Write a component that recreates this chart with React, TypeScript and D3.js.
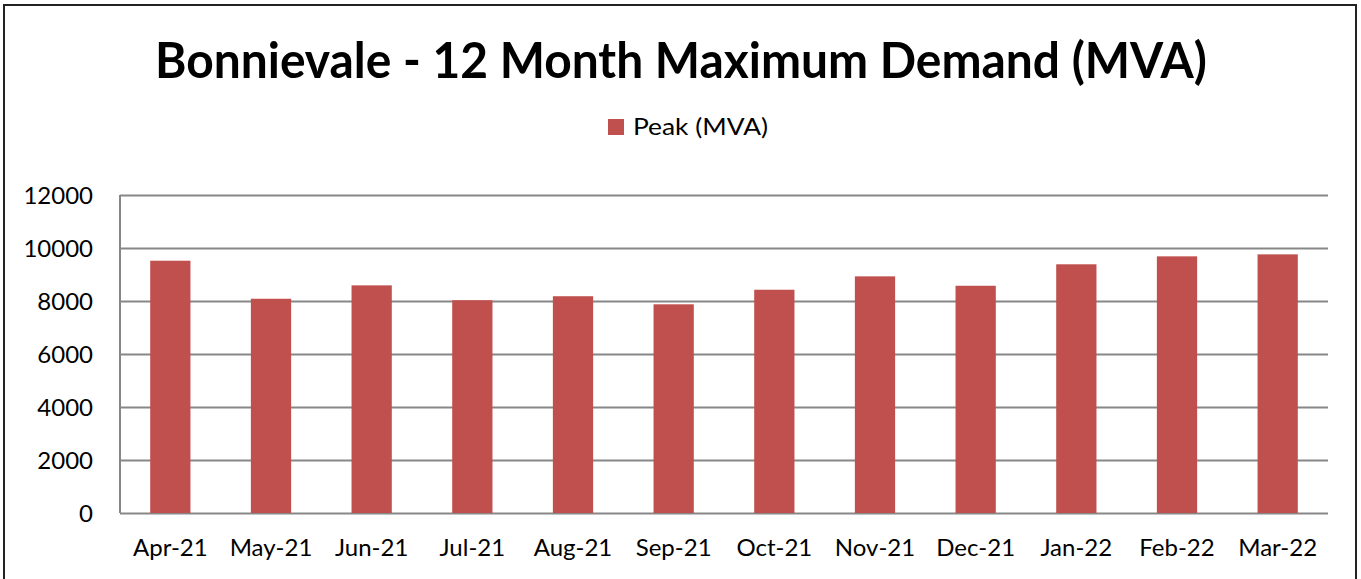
import { useEffect, useRef } from "react";
import * as d3 from "d3";

const months = [
  "Apr-21", "May-21", "Jun-21", "Jul-21", "Aug-21", "Sep-21",
  "Oct-21", "Nov-21", "Dec-21", "Jan-22", "Feb-22", "Mar-22",
];
const peakMVA = [9520, 8085, 8590, 8030, 8180, 7875, 8425, 8930, 8575, 9385, 9685, 9760];
const yTicks = [0, 2000, 4000, 6000, 8000, 10000, 12000];
const seriesName = "Peak (MVA)";
const title = "Bonnievale - 12 Month Maximum Demand (MVA)";

export default function App() {
  const width = 1361;
  const height = 579;
  const marginTop = 195;
  const marginRight = 33;
  const marginBottom = 66;
  const marginLeft = 120;
  const ref = useRef(null);

  useEffect(() => {
    ref.current.innerHTML = "";
    const svg = d3.select(ref.current);
    const font = "Lato, 'Open Sans', sans-serif";

    // outer chart frame (bottom edge is cut off in the picture)
    svg
      .append("path")
      .attr("d", `M4,${height + 5}V5H1356V${height + 5}`)
      .attr("fill", "none")
      .attr("stroke", "#222")
      .attr("stroke-width", 2);

    const xScale = d3
      .scaleBand()
      .domain(months)
      .range([marginLeft, width - marginRight])
      .paddingInner(0.6)
      .paddingOuter(0.3);

    const yScale = d3
      .scaleLinear()
      .domain([0, 12000])
      .range([height - marginBottom, marginTop]);

    // gridlines + y labels
    svg
      .append("g")
      .attr("transform", `translate(${width - marginRight}, 0)`)
      .call(
        d3
          .axisLeft(yScale)
          .tickValues(yTicks)
          .tickSize(width - marginLeft - marginRight)
          .tickFormat(d3.format("d")),
      )
      .call((g) => g.select(".domain").remove())
      .call((g) =>
        g.selectAll(".tick line").attr("stroke", "#878787").attr("stroke-width", 2),
      )
      .call((g) =>
        g
          .selectAll(".tick text")
          .attr("x", -(width - marginLeft - marginRight) - 27)
          .attr("dy", "0.36em")
          .attr("fill", "#000")
          .style("font-family", font)
          .style("font-size", "24px"),
      );

    // left axis line
    svg
      .append("line")
      .attr("x1", marginLeft)
      .attr("x2", marginLeft)
      .attr("y1", yScale(12000))
      .attr("y2", yScale(0))
      .attr("stroke", "#878787")
      .attr("stroke-width", 2);

    // bars
    svg
      .append("g")
      .selectAll("rect")
      .data(months)
      .join("rect")
      .attr("x", (d) => xScale(d))
      .attr("y", (d, i) => yScale(peakMVA[i]))
      .attr("width", xScale.bandwidth())
      .attr("height", (d, i) => yScale(0) - yScale(peakMVA[i]))
      .attr("fill", "#C0504D");

    // x labels
    svg
      .append("g")
      .attr("transform", `translate(0, ${height - marginBottom})`)
      .call(d3.axisBottom(xScale).tickSize(0))
      .call((g) => g.select(".domain").remove())
      .call((g) =>
        g
          .selectAll(".tick text")
          .attr("y", 26)
          .attr("dy", "0.72em")
          .attr("fill", "#000")
          .style("font-family", font)
          .style("font-size", "24px"),
      );

    // title
    svg
      .append("text")
      .attr("x", 681)
      .attr("y", 78)
      .attr("text-anchor", "middle")
      .attr("textLength", 1052)
      .attr("lengthAdjust", "spacingAndGlyphs")
      .style("font-family", font)
      .style("font-weight", "bold")
      .style("font-size", "50px")
      .text(title);

    // legend
    const legend = svg.append("g");
    legend
      .append("rect")
      .attr("x", 608)
      .attr("y", 119)
      .attr("width", 16)
      .attr("height", 16)
      .attr("fill", "#C0504D");
    legend
      .append("text")
      .attr("x", 633)
      .attr("y", 135)
      .attr("textLength", 135)
      .attr("lengthAdjust", "spacingAndGlyphs")
      .style("font-family", font)
      .style("font-size", "23px")
      .text(seriesName);
  }, []);

  return (
    <svg
      ref={ref}
      width={width}
      height={height}
      style={{ position: "absolute", left: 0, top: 0, background: "#fff" }}
    />
  );
}
